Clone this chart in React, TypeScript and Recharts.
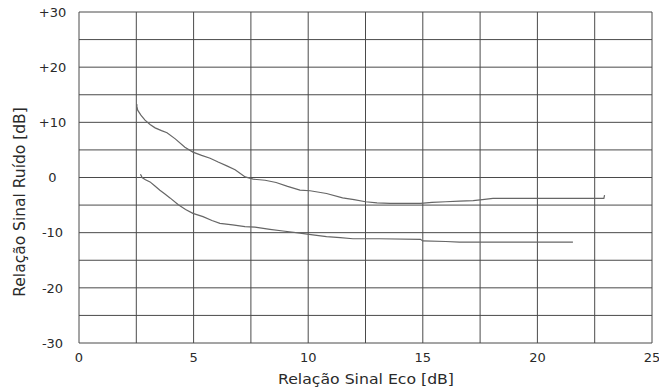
import React from "react";
import { CartesianGrid, Label, Line, LineChart, XAxis, YAxis } from "recharts";

// upper curve
const upperX = [
  2.52, 2.53, 2.56, 2.7, 2.88, 3.1, 3.32, 3.6, 3.84, 4.2, 4.62, 4.97, 5.35, 5.72, 6.07,
  6.45, 6.81, 7.25, 7.6, 8.12, 8.6, 9.1, 9.64, 10.08, 10.8, 11.5, 12.0, 12.5, 13.0, 13.57,
  14.3, 14.9, 15.4, 16.0, 16.6, 17.2, 17.6, 18.06, 19.5, 21.0, 22.2, 22.9, 22.93,
];
const upperY = [
  13.3, 12.8, 12.2, 11.3, 10.4, 9.6, 9.0, 8.5, 8.1, 7.0, 5.5, 4.6, 4.0, 3.5, 2.8,
  2.1, 1.4, 0.1, -0.3, -0.5, -0.9, -1.6, -2.3, -2.4, -2.9, -3.7, -4.0, -4.4, -4.6, -4.7,
  -4.7, -4.7, -4.5, -4.4, -4.3, -4.2, -4.0, -3.8, -3.8, -3.8, -3.8, -3.8, -3.2,
];

// lower curve
const lowerX = [
  2.68, 2.72, 2.75, 2.9, 3.1, 3.3, 3.53, 3.75, 3.97, 4.32, 4.65, 4.97, 5.41, 5.8, 6.15,
  6.7, 7.24, 7.68, 8.33, 8.9, 9.64, 10.2, 10.8, 11.4, 11.95, 13.1, 14.9, 15.0, 16.0, 16.6,
  17.5, 19.5, 21.55,
];
const lowerY = [
  0.6, 0.3, 0.0, -0.4, -0.8, -1.5, -2.3, -3.0, -3.7, -4.9, -5.8, -6.5, -7.1, -7.8, -8.3,
  -8.6, -8.9, -9.0, -9.4, -9.7, -10.1, -10.4, -10.7, -10.9, -11.1, -11.1, -11.2, -11.5, -11.6, -11.7,
  -11.7, -11.7, -11.7,
];

const xTicks = [0, 2.5, 5, 7.5, 10, 12.5, 15, 17.5, 20, 22.5, 25];
const yTicks = [-30, -25, -20, -15, -10, -5, 0, 5, 10, 15, 20, 25, 30];

const upper = upperX.map((x, i) => ({ x, y: upperY[i] }));
const lower = lowerX.map((x, i) => ({ x, y: lowerY[i] }));

const FONT = "'DejaVu Sans', 'Liberation Sans', sans-serif";
const INK = "#2a2a2a";

function XTick(props: any) {
  const { x, y, payload } = props;
  if (payload.value % 5 !== 0) return <g />;
  return (
    <text x={x} y={y} dy={19} textAnchor="middle" fontSize={13} fontFamily={FONT} fill={INK}>
      {payload.value}
    </text>
  );
}

function YTick(props: any) {
  const { x, y, payload } = props;
  const v = payload.value;
  if (v % 10 !== 0) return <g />;
  return (
    <text x={x - 26.5} y={y} dy="0.36em" textAnchor="middle" fontSize={13} fontFamily={FONT} fill={INK}>
      {v > 0 ? `+${v}` : `${v}`}
    </text>
  );
}

export default function App() {
  return (
    <div style={{ position: "absolute", left: 0, top: 0, background: "#fff" }}>
      <LineChart width={659} height={390} margin={{ top: 12, right: 7, bottom: 0, left: 0 }}>
        <CartesianGrid stroke="#4a4a4a" strokeWidth={1} />
        <XAxis
          dataKey="x"
          type="number"
          domain={[0, 25]}
          ticks={xTicks}
          interval={0}
          height={47}
          tickLine={false}
          axisLine={false}
          tickSize={0}
          tickMargin={0}
          tick={XTick}
        >
          <Label
            content={() => (
              <text
                x={366}
                y={384}
                textAnchor="middle"
                fontSize={13.5}
                fontFamily={FONT}
                fill={INK}
                textLength={176}
                lengthAdjust="spacingAndGlyphs"
              >
                Relação Sinal Eco [dB]
              </text>
            )}
          />
        </XAxis>
        <YAxis
          type="number"
          domain={[-30, 30]}
          ticks={yTicks}
          interval={0}
          width={79}
          tickLine={false}
          axisLine={false}
          tickSize={0}
          tickMargin={0}
          tick={YTick}
        >
          <Label
            content={() => (
              <text
                x={19}
                y={202}
                dy="0.36em"
                transform="rotate(-90 19 202)"
                textAnchor="middle"
                fontSize={15.5}
                fontFamily={FONT}
                fill={INK}
              >
                Relação Sinal Ruído [dB]
              </text>
            )}
          />
        </YAxis>
        <Line data={upper} dataKey="y" type="linear" stroke="#666" strokeWidth={1.2} dot={false} isAnimationActive={false} />
        <Line data={lower} dataKey="y" type="linear" stroke="#666" strokeWidth={1.2} dot={false} isAnimationActive={false} />
      </LineChart>
    </div>
  );
}
